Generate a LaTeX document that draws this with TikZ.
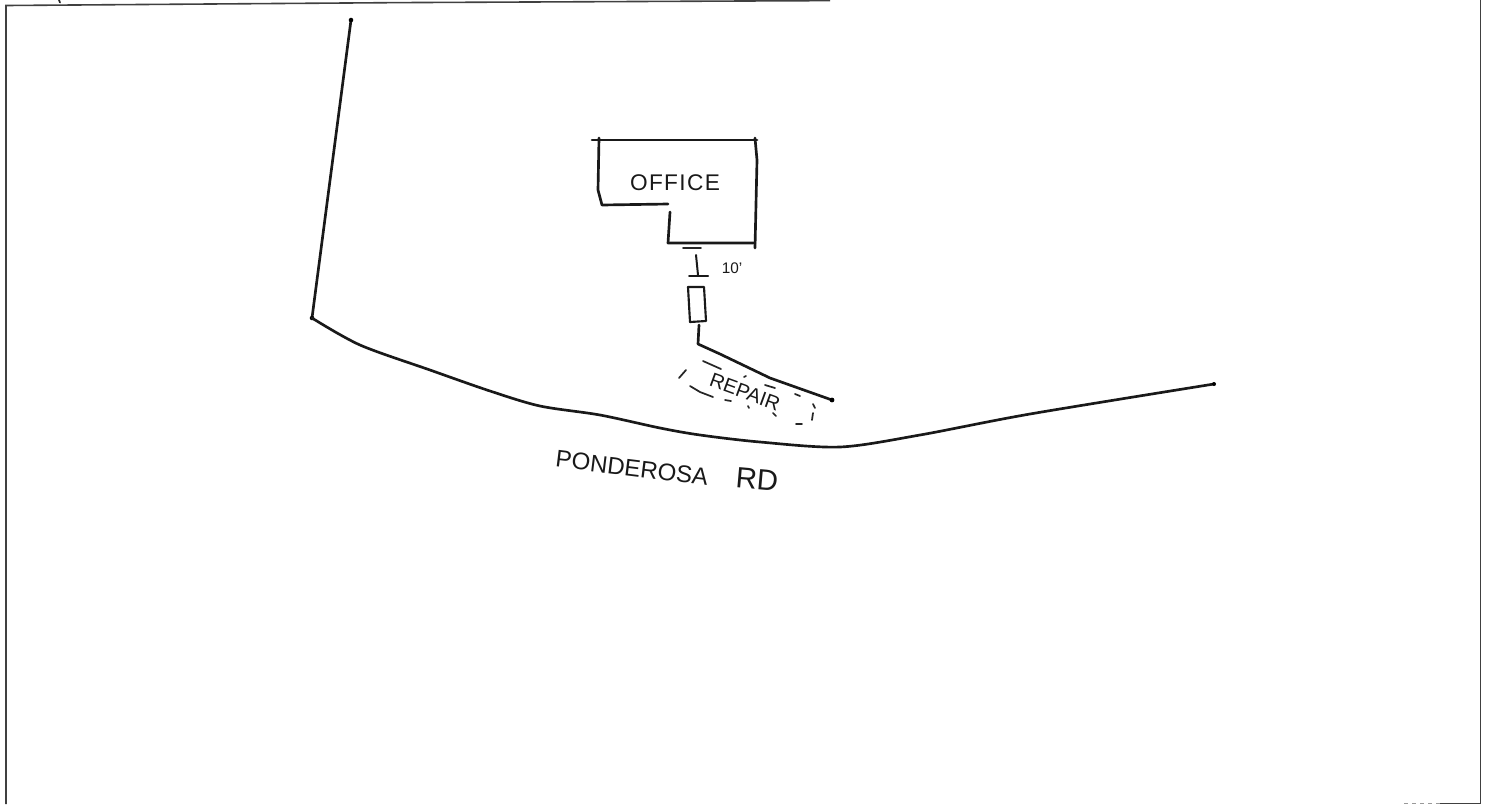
\documentclass[tikz,border=0pt]{standalone}
\usepackage{fontspec}
\setmainfont{Liberation Sans}
\newfontfamily\handfont[LetterSpace=6]{Liberation Sans}
\tikzset{
  pen/.style={draw=black!90,line width=2pt,line cap=round,line join=round},
  thinpen/.style={draw=black!85,line width=1.3pt,line cap=round,line join=round},
  frameline/.style={draw=black!75,line width=1.2pt},
  hand/.style={inner sep=0pt,text=black!90}
}
\begin{document}
\begin{tikzpicture}[x=0.75pt,y=-0.75pt]
\useasboundingbox (0,0) rectangle (1487,804);
% sheet frame
\draw[frameline] (6,804) -- (6,5.5) -- (400,2.6) -- (830,0.6);
\draw[frameline] (1480.5,0) -- (1480.5,804);
\draw[frameline] (1440,803.3) -- (1481,803.3);
\draw[frameline,draw=black!40,dashed] (1404,803.5) -- (1440,803.5);
\draw[thinpen] (60,2.5) -- (59,0);
% side lot line and road
\draw[pen] (351,20) -- (312,318);
\fill[black] (351,20) circle (1.7pt) (312,318) circle (1.7pt);
\draw[pen] plot[smooth,tension=0.5] coordinates {(312,318) (360,345) (430,370) (490,391) (540,406) (600,415) (660,428) (700,435) (760,442) (840,447) (920,435) (1030,414) (1214,384)};
\fill[black] (1214,384) circle (1.5pt);
% office outline
\draw[pen] (592,140) -- (757,140);
\draw[pen] (599,138) -- (598,190) -- (602,205) -- (668,204);
\draw[pen] (670,212) -- (668,243) -- (755,243);
\draw[pen] (755,138) -- (757,160) -- (755,248);
\node[hand,font=\fontsize{17}{17}\selectfont\handfont] (office) at (675,183) {OFFICE};
% ten-foot dimension
\draw[thinpen] (683,248) -- (701,248);
\draw[pen,line width=1.5pt] (696,255) -- (698,275);
\draw[pen,line width=1.5pt] (689,276) -- (708,276);
\node[hand,font=\fontsize{11.5}{12}\selectfont] (dist) at (732,268) {10'};
% small rectangle and fence
\draw[pen,line width=1.6pt] (688,287) -- (704,287) -- (706,321) -- (690,322) -- cycle;
\draw[pen] (699,325) -- (698,344) -- (720,354) -- (770,378) -- (832,400);
\fill[black] (832,400) circle (1.8pt);
% dashed repair area
\draw[thinpen] (703,361) -- (721,369);
\draw[thinpen] (765,385) -- (775,388);
\draw[thinpen] (795,394) -- (800,396);
\draw[thinpen] (679,378) -- (686,370);
\draw[thinpen] (690,386) -- (700,392) -- (713,397);
\draw[thinpen] (725,400) -- (731,401);
\draw[thinpen] (744,377) -- (746,376);
\draw[thinpen] (748,406) -- (749,408);
\draw[thinpen] (773,413) -- (776,416);
\draw[thinpen] (813,404) -- (815,408);
\draw[thinpen] (813,413) -- (812,420);
\draw[thinpen] (796,424) -- (802,424);
\node[hand,font=\fontsize{15}{15}\selectfont,rotate=-20] (repair) at (745,392) {REPAIR};
% road label
\node[hand,font=\fontsize{18}{18}\selectfont,rotate=-7] (road) at (632,468) {PONDEROSA};
\node[hand,font=\fontsize{22}{22}\selectfont,rotate=-5] (rd) at (757,479) {RD};
\end{tikzpicture}
\end{document}
